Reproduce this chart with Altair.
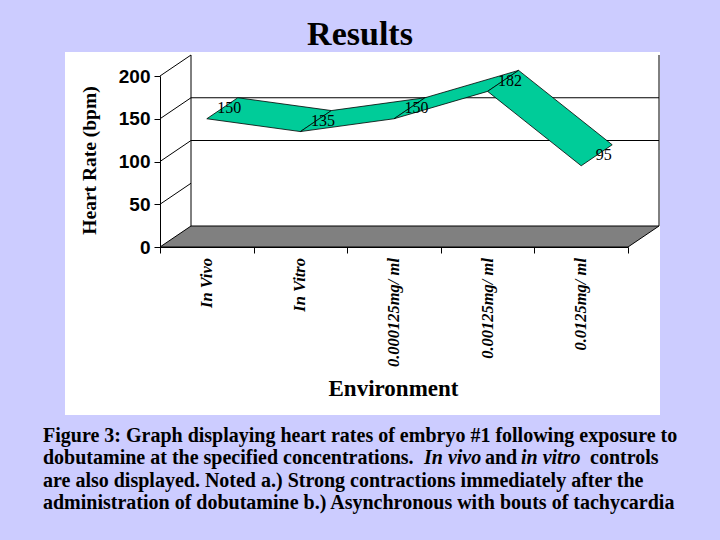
import altair as alt
import pandas as pd

# ---- data ----
categories = ["In Vivo", "In Vitro", "0.000125mg/ ml", "0.00125mg/ ml", "0.0125mg/ ml"]
heart_rate = [150, 135, 150, 182, 95]
y_ticks = [0, 50, 100, 150, 200]
diag_ticks = [50, 100, 150, 200]
wall_grid = [100, 150]
y_max = 200

caption_lines = [
    "Figure 3:  Graph displaying heart rates of embryo #1 following exposure to",
    "dobutamine at the specified concentrations.",
    "are also displayed.  Noted a.) Strong contractions immediately after the",
    "administration of dobutamine  b.) Asynchronous with bouts of tachycardia",
]
caption_line2_parts = ["In vivo", "and", "in vitro", "controls"]
caption_line2_italic = [True, False, True, False]

# ---- 3-D look: depth offset expressed in data units ----
PX_X = 468 / 5.0      # px per category
PX_Y = 171 / 200.0    # px per bpm
DX = 31 / PX_X
DY = 21 / PX_Y

n = len(categories)
x_lo, x_hi = -0.5, n - 0.5

# ribbon polygons (one parallelogram per segment)
rib = []
for k in range(n - 1):
    v0, v1 = heart_rate[k], heart_rate[k + 1]
    pts = [(k, v0), (k + 1, v1), (k + 1 + DX, v1 + DY), (k + DX, v0 + DY), (k, v0)]
    for o, (px, py) in enumerate(pts):
        rib.append({"seg": k, "ord": o, "x": px, "y": py})
rib_df = pd.DataFrame(rib)

floor_pts = [(x_lo, 0), (x_hi, 0), (x_hi + DX, DY), (x_lo + DX, DY), (x_lo, 0)]
floor_df = pd.DataFrame([{"ord": i, "x": a, "y": b} for i, (a, b) in enumerate(floor_pts)])

rules = []
for v in diag_ticks:
    rules.append({"x0": x_lo, "x1": x_lo + DX, "y0": v, "y1": v + DY})
for v in wall_grid:
    rules.append({"x0": x_lo + DX, "x1": x_hi + DX, "y0": v + DY, "y1": v + DY})
rules.append({"x0": x_lo + DX, "x1": x_lo + DX, "y0": DY, "y1": y_max + DY})
rules.append({"x0": x_hi + DX, "x1": x_hi + DX, "y0": DY, "y1": y_max + DY})
rules_df = pd.DataFrame(rules)

lab_df = pd.DataFrame({
    "x": [i + DX / 2 for i in range(n)],
    "y": [v + DY / 2 for v in heart_rate],
    "t": [str(v) for v in heart_rate],
})
cat_df = pd.DataFrame({"x": list(range(n)), "y": [0] * n, "cat": categories})

SERIF = "Liberation Serif"
SANS = "Liberation Sans"

xscale = alt.Scale(domain=[x_lo, x_hi], nice=False, zero=False)
yscale = alt.Scale(domain=[0, y_max], nice=False)

one = pd.DataFrame({"a": [0]})

panel = alt.Chart(one).mark_rect(color="white").encode(
    x=alt.value(-95), x2=alt.value(500), y=alt.value(-24), y2=alt.value(339)
)

floor = alt.Chart(floor_df).mark_line(
    fill="#808080", stroke="black", strokeWidth=1
).encode(
    x=alt.X("x:Q", scale=xscale, axis=alt.Axis(
        values=[i - 0.5 for i in range(n + 1)], labels=False, grid=False, zindex=2,
        ticks=True, tickSize=6, tickColor="black", domain=True, domainColor="black",
        title="Environment", titleFont=SERIF, titleFontSize=23, titleFontWeight="bold",
        titleColor="black", titleX=233, titleY=148, titleBaseline="alphabetic",
        titleAlign="center")),
    y=alt.Y("y:Q", scale=yscale, axis=alt.Axis(
        values=y_ticks, grid=False, tickSize=6, tickColor="black", domainColor="black",
        zindex=2,
        labelFont=SANS, labelFontSize=19, labelFontWeight="bold", labelColor="black",
        labelPadding=4,
        title="Heart Rate (bpm)", titleFont=SERIF, titleFontSize=19.5,
        titleFontWeight="bold", titleColor="black", titleX=-71, titleY=84,
        titleAngle=270, titleAlign="center", titleBaseline="middle")),
    order="ord:Q",
)

walls = alt.Chart(rules_df).mark_rule(color="black", strokeWidth=1).encode(
    x=alt.X("x0:Q", scale=xscale), x2="x1:Q",
    y=alt.Y("y0:Q", scale=yscale), y2="y1:Q",
)

ribbon = alt.Chart(rib_df).mark_line(
    fill="#00CC99", stroke="black", strokeWidth=0.8
).encode(
    x=alt.X("x:Q", scale=xscale), y=alt.Y("y:Q", scale=yscale),
    detail="seg:N", order="ord:Q",
)

vlabels = alt.Chart(lab_df).mark_text(
    font=SERIF, fontSize=16, color="black", xOffset=7, baseline="middle"
).encode(x=alt.X("x:Q", scale=xscale), y=alt.Y("y:Q", scale=yscale), text="t:N")

catlabels = alt.Chart(cat_df).mark_text(
    font=SERIF, fontSize=16.5, fontStyle="italic", fontWeight="bold", color="black",
    angle=270, align="right", baseline="middle", yOffset=11
).encode(x=alt.X("x:Q", scale=xscale), y=alt.Y("y:Q", scale=yscale), text="cat:N")

title = alt.Chart(one).mark_text(
    text="Results", font=SERIF, fontSize=34, fontWeight="bold", color="black",
    align="center", baseline="alphabetic"
).encode(x=alt.value(200), y=alt.value(-31))

CAP_FS = 20
cap_layers = []
cap_y = [366, 388.3, 410.6, 433]
for i, line in enumerate(caption_lines):
    cap_layers.append(alt.Chart(one).mark_text(
        text=line, font=SERIF, fontSize=CAP_FS, fontWeight="bold", color="black",
        align="left", baseline="alphabetic"
    ).encode(x=alt.value(-117), y=alt.value(cap_y[i])))
part_x = [424, 485, 521, 590]
for part, ital, px in zip(caption_line2_parts, caption_line2_italic, part_x):
    cap_layers.append(alt.Chart(one).mark_text(
        text=part, font=SERIF, fontSize=CAP_FS, fontWeight="bold",
        fontStyle="italic" if ital else "normal", color="black",
        align="left", baseline="alphabetic"
    ).encode(x=alt.value(px - 160), y=alt.value(cap_y[1])))

chart = alt.layer(
    panel, floor, walls, ribbon, vlabels, catlabels, title, *cap_layers
).properties(
    width=468, height=171,
    autosize=alt.AutoSizeParams(type="none"),
    padding={"left": 160, "top": 76, "right": 92, "bottom": 293},
    background="#CCCCFF",
).configure_view(stroke=None)

chart.save("out.html", embed_options={"renderer": "svg", "actions": False})
